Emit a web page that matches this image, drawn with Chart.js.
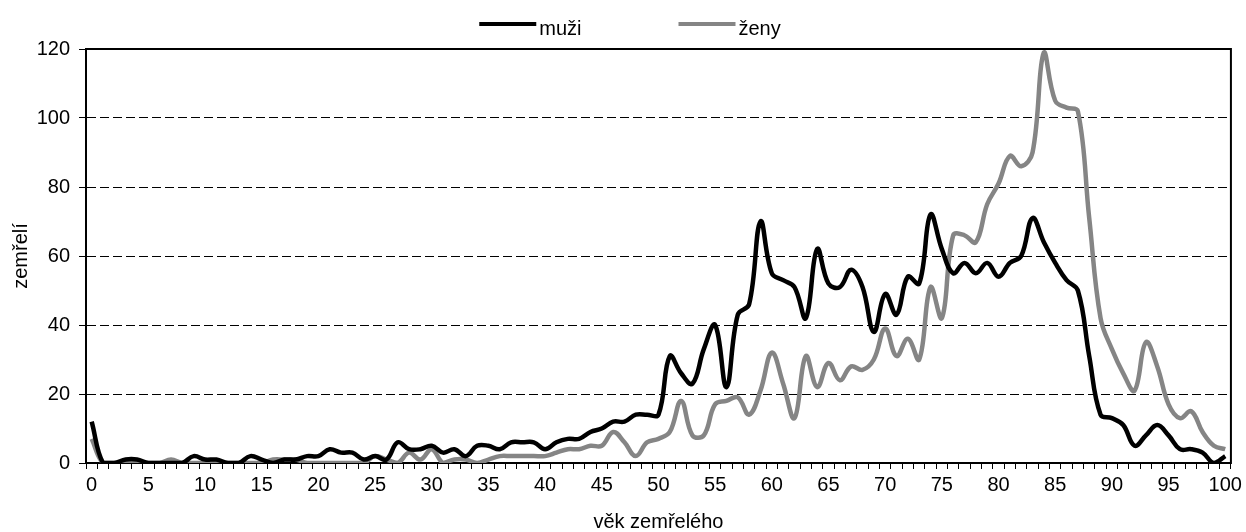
<!DOCTYPE html>
<html>
<head>
<meta charset="utf-8">
<script src="https://cdn.jsdelivr.net/npm/chart.js@4.4.1/dist/chart.umd.min.js"></script>
<style>
  html, body { margin: 0; padding: 0; background: #fff; }
  #wrap { width: 1246px; height: 532px; position: relative; }
</style>
</head>
<body>
<div id="wrap"><canvas id="c"></canvas></div>
<script>
const ages = Array.from({ length: 101 }, (_, i) => String(i));

const muzi = [
  12, 0, 0, 1, 1, 0, 0, 0, 0, 2,
  1, 1, 0, 0, 2, 1, 0, 1, 1, 2,
  2, 4, 3, 3, 1, 2, 1, 6, 4, 4,
  5, 3, 4, 2, 5, 5, 4, 6, 6, 6,
  4, 6, 7, 7, 9, 10, 12, 12, 14, 14,
  14, 31, 26, 23, 33, 40, 22, 43, 46, 70,
  55, 53, 51, 42, 62, 52, 51, 56, 51, 38,
  49, 43, 54, 52, 72, 62, 55, 58, 55, 58,
  54, 58, 60, 71, 64, 58, 53, 50, 31, 14,
  13, 11, 5, 8, 11, 8, 4, 4, 3, 0,
  2
];

const zeny = [
  7, 0, 0, 0, 0, 0, 0, 1, 0, 0,
  0, 0, 0, 0, 0, 0, 1, 1, 1, 0,
  0, 0, 0, 0, 0, 2, 1, 0, 3, 1,
  4, 0, 1, 1, 0, 1, 2, 2, 2, 2,
  2, 3, 4, 4, 5, 5, 9, 6, 2, 6,
  7, 9, 18, 8, 8, 17, 18, 19, 14, 21,
  32, 23, 13, 31, 22, 29, 24, 28, 27, 30,
  39, 31, 36, 30, 51, 42, 66, 66, 64, 75,
  81, 89, 86, 90, 119, 105, 103, 102, 71, 42,
  33, 26, 21, 35, 28, 17, 13, 15, 9, 5,
  4
];

const yTicks = [0, 20, 40, 60, 80, 100, 120];

const FONT = '"Liberation Sans", Arial, sans-serif';

/* ── plot frame (top + right edges of the box) ── */
const framePlugin = {
  id: 'frame',
  beforeDatasetsDraw(chart){
    const { ctx, chartArea: a } = chart;
    ctx.save();
    ctx.strokeStyle = '#000';
    ctx.lineWidth = 2;
    ctx.strokeRect(a.left, a.top, a.right - a.left, a.bottom - a.top);
    ctx.restore();
  }
};

/* ── legend: long line sample + label, centred above the plot ── */
const legendPlugin = {
  id: 'lineLegend',
  afterDraw(chart){
    const { ctx } = chart;
    const sampleW = 57, gapText = 3, gapItem = 97, cx = 630, ySample = 24, yText = 29;
    ctx.save();
    ctx.font = `20px ${FONT}`;
    const items = chart.data.datasets.map(ds => ({ label: ds.label, color: ds.borderColor, tw: ctx.measureText(ds.label).width }));
    const total = items.reduce((s, it) => s + sampleW + gapText + it.tw, 0) + gapItem * (items.length - 1);
    let x = cx - total / 2;
    items.forEach(it => {
      ctx.fillStyle = it.color;
      ctx.fillRect(x, ySample - 2, sampleW, 4);
      ctx.fillStyle = '#000';
      ctx.textBaseline = 'middle';
      ctx.textAlign = 'left';
      ctx.fillText(it.label, x + sampleW + gapText, yText);
      x += sampleW + gapText + it.tw + gapItem;
    });
    ctx.restore();
  }
};

new Chart(document.getElementById('c'), {
  type: 'line',
  data: {
    labels: ages,
    datasets: [
      { label: 'muži', data: muzi, borderColor: '#000000', borderWidth: 4.5, pointRadius: 0, tension: 0.4, fill: false },
      { label: 'ženy', data: zeny, borderColor: '#858585', borderWidth: 4.5, pointRadius: 0, tension: 0.4, fill: false }
    ]
  },
  options: {
    responsive: true,
    maintainAspectRatio: false,
    animation: false,
    layout: { padding: { top: 49, right: 14, left: 0, bottom: 0 } },
    plugins: { legend: { display: false }, tooltip: { enabled: false } },
    scales: {
      x: {
        type: 'category',
        offset: true,
        afterFit(s){ s.height = 69; },
        grid: { display: true, offset: true, drawOnChartArea: false, drawTicks: true, tickLength: 6, tickColor: '#000', tickWidth: 1 },
        border: { display: true, color: '#000', width: 2 },
        ticks: {
          autoSkip: false, maxRotation: 0, minRotation: 0, padding: 4,
          color: '#000', font: { family: FONT, size: 20 },
          callback(v){ const l = this.getLabelForValue(v); return Number(l) % 5 === 0 ? l : ''; }
        },
        title: { display: true, text: 'věk zemřelého', color: '#000', font: { family: FONT, size: 20 }, padding: { top: 0, bottom: -2 } }
      },
      y: {
        min: 0, max: 120,
        afterFit(s){ s.width = 86; },
        afterBuildTicks(s){ s.ticks = yTicks.map(v => ({ value: v })); },
        grid: { color: '#000', lineWidth: 1, drawTicks: true, tickLength: 7, tickColor: '#000', tickWidth: 1 },
        border: { display: true, color: '#000', width: 2, dash: [9, 4] },
        ticks: { color: '#000', padding: 9, font: { family: FONT, size: 20 } },
        title: { display: true, text: 'zemřelí', color: '#000', font: { family: FONT, size: 20 }, padding: { top: 9, bottom: 0 } }
      }
    }
  },
  plugins: [framePlugin, legendPlugin]
});
</script>
</body>
</html>
